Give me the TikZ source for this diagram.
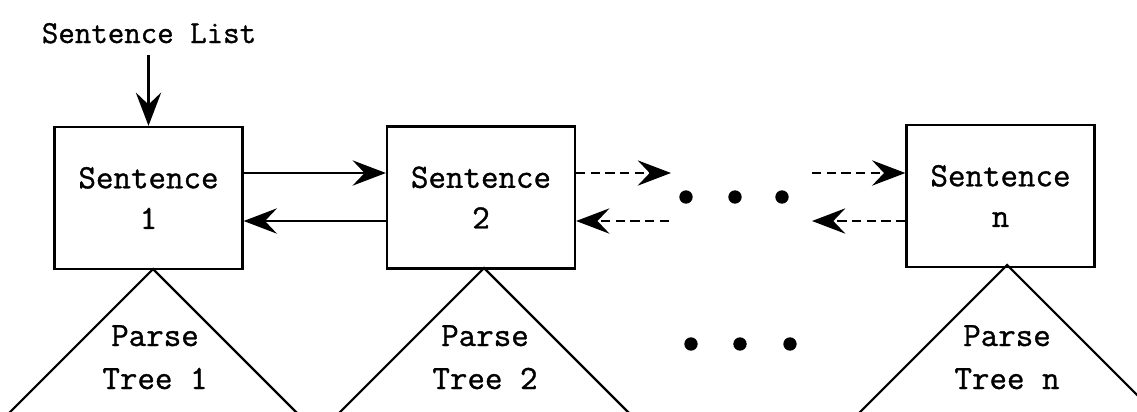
\documentclass[tikz,border=0pt]{standalone}
\usepackage{fontspec}
\newfontfamily\typefont{Latin Modern Mono}[FakeBold=1.0]
\usetikzlibrary{arrows.meta}
\begin{document}
\begin{tikzpicture}[x=0.75pt,y=-0.75pt,
  lbl/.style={font=\fontsize{25.5}{30.5}\selectfont\typefont, inner sep=0pt, align=center},
  sbox/.style={draw, line width=1.7pt, minimum width=141pt, minimum height=106.5pt,
               font=\fontsize{25.5}{30.5}\selectfont\typefont, align=center, inner sep=0pt},
  link/.style={line width=1.6pt, -{Stealth[length=25pt, width=19pt, inset=9pt]}},
  dlink/.style={link, dash pattern=on 7pt off 4pt},
  tri/.style={line width=1.6pt, line join=miter},
  dot/.style={circle, fill, inner sep=0pt, minimum size=10pt}]
\useasboundingbox (0,0) rectangle (1137,411);
\clip (0,0) rectangle (1137,411);

% sentence boxes
\node[sbox] (s1) at (148.5,198) {Sentence\\1};
\node[sbox] (s2) at (481,197.5) {Sentence\\2};
\node[sbox] (sn) at (1000.5,196) {Sentence\\n};

% input label and its arrow
\node[lbl, anchor=base, font=\fontsize{24}{30}\selectfont\typefont] (list) at (149,43) {Sentence List};
\coordinate (top) at (148.5,55);
\draw[link] (top) -- (s1.north);

% heights of the forward and backward links
\coordinate (yhi) at (0,173);
\coordinate (ylo) at (0,221);

% links between sentence 1 and 2
\draw[link] (s1.east |- yhi) -- (s2.west |- yhi);
\draw[link] (s2.west |- ylo) -- (s1.east |- ylo);

% dashed links around the ellipsis
\coordinate (f1) at (671,173);
\coordinate (b1) at (669,221);
\coordinate (f2) at (812,173);
\coordinate (b2) at (812,221);
\draw[dlink] (s2.east |- yhi) -- (f1);
\draw[dlink] (b1) -- (s2.east |- ylo);
\draw[dlink] (f2) -- (sn.west |- yhi);
\draw[dlink] (sn.west |- ylo) -- (b2);

% ellipsis between the boxes
\node[dot] (m1) at (686,197) {};
\node[dot] (m2) at (735,197) {};
\node[dot] (m3) at (782,197) {};

% parse tree triangles
\coordinate (a1) at (153,269);
\coordinate (a2) at (484,268);
\coordinate (an) at (1007,265);
\draw[tri] (a1) ++(-150,150) -- (a1) -- ++(150,150);
\draw[tri] (a2) ++(-150,150) -- (a2) -- ++(150,150);
\draw[tri] (an) ++(-150,150) -- (an) -- ++(150,150);

\node[lbl, anchor=base] (p1) at (155,346) {Parse};
\node[lbl, anchor=base] (t1) at (155,389) {Tree 1};
\node[lbl, anchor=base] (p2) at (485,346) {Parse};
\node[lbl, anchor=base] (t2) at (485,389) {Tree 2};
\node[lbl, anchor=base] (pn) at (1007,346) {Parse};
\node[lbl, anchor=base] (tn) at (1007,389) {Tree n};

% ellipsis between the trees
\node[dot] (e1) at (691,344) {};
\node[dot] (e2) at (740,344) {};
\node[dot] (e3) at (790,344) {};
\end{tikzpicture}
\end{document}
